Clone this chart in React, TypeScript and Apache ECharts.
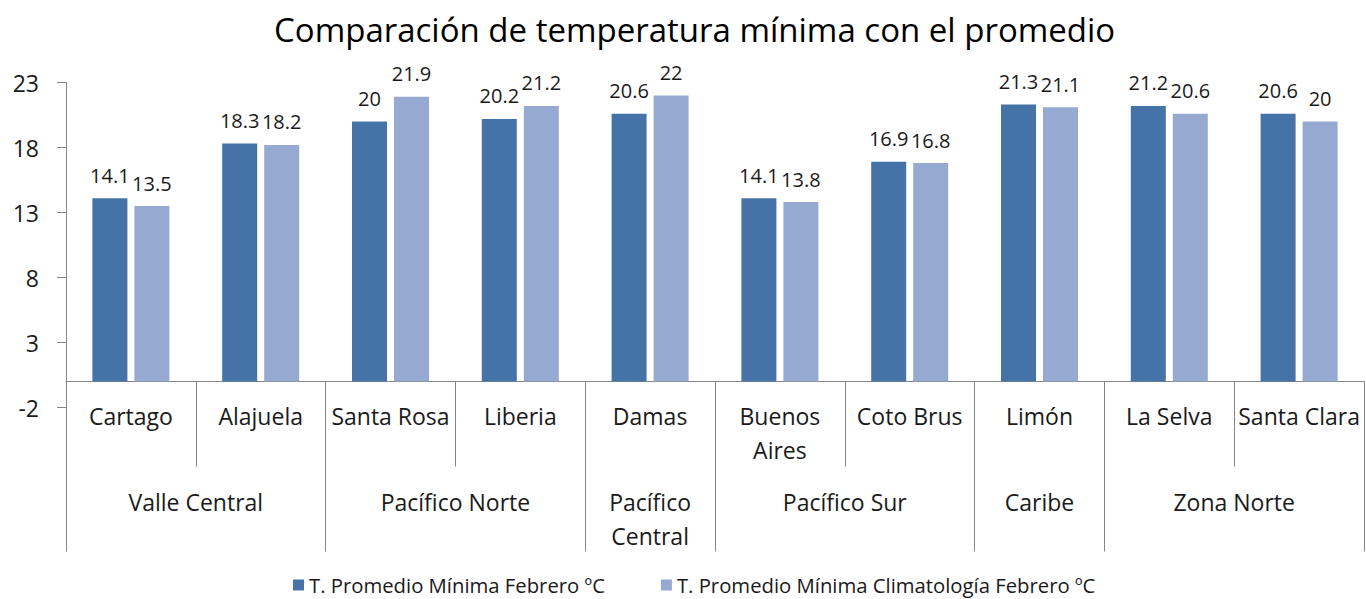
import React, { useEffect, useRef } from "react";
import * as echarts from "echarts";

const titleText = "Comparación de temperatura mínima con el promedio";
const cities = ["Cartago", "Alajuela", "Santa Rosa", "Liberia", "Damas", "Buenos Aires", "Coto Brus", "Limón", "La Selva", "Santa Clara"];
const regions = ["Valle Central", "Pacífico Norte", "Pacífico Central", "Pacífico Sur", "Caribe", "Zona Norte"];
const regionSpans = [2, 2, 1, 2, 1, 2];
const seriesNames = ["T. Promedio Mínima Febrero ºC", "T. Promedio Mínima Climatología Febrero ºC"];
const minFeb = [14.1, 18.3, 20, 20.2, 20.6, 14.1, 16.9, 21.3, 21.2, 20.6];
const climFeb = [13.5, 18.2, 21.9, 21.2, 22, 13.8, 16.8, 21.1, 20.6, 20];
const yMin = -2;
const yMax = 23;
const yStep = 5;

const FONT = "Open Sans";
const TXT = "#1a1a1a";
const AXIS = "#868686";
const C1 = "#4572A7";
const C2 = "#95A9D1";

export default function App() {
  const ref = useRef<HTMLDivElement>(null);
  useEffect(() => {
    if (!ref.current) return;
    const chart = echarts.init(ref.current, undefined, { renderer: "svg" });

    // region slots on a half-city grid (boundaryGap false)
    const slots: string[] = new Array(cities.length * 2 + 1).fill("");
    const spanOf: Record<string, number> = {};
    const bounds = new Set<number>();
    let s = 0;
    regions.forEach((r, i) => {
      const n = regionSpans[i];
      bounds.add(2 * s);
      slots[2 * s + n] = r;
      spanOf[r] = n;
      s += n;
    });
    bounds.add(2 * s);

    chart.setOption({
      animation: false,
      textStyle: { fontFamily: FONT },
      title: {
        text: titleText,
        left: 274,
        top: 13,
        padding: 0,
        textStyle: { fontFamily: FONT, fontSize: 33, fontWeight: "normal", color: "#000" },
      },
      legend: {
        top: 575,
        left: 293,
        padding: 0,
        icon: "rect",
        itemWidth: 11,
        itemHeight: 11,
        itemGap: 56,
        textStyle: { fontFamily: FONT, fontSize: 20.3, color: TXT },
        data: seriesNames,
      },
      grid: { left: 66, right: 2, top: 82.5, bottom: 191.5, containLabel: false },
      xAxis: [
        {
          type: "category",
          data: cities,
          position: "bottom",
          boundaryGap: true,
          axisLine: { show: true, onZero: true, onZeroAxisIndex: 0, lineStyle: { color: AXIS, width: 1 } },
          axisTick: { show: true, length: 85, inside: false, interval: 0, lineStyle: { color: AXIS, width: 1 } },
          axisLabel: {
            interval: 0,
            margin: -9,
            fontFamily: FONT,
            fontSize: 23,
            lineHeight: 34,
            color: TXT,
            formatter: (v: string) => (v.length > 11 ? v.replace(" ", "\n") : v),
          },
          splitLine: { show: false },
        },
        {
          type: "category",
          data: slots,
          position: "bottom",
          boundaryGap: false,
          axisLine: { show: false, onZero: true, onZeroAxisIndex: 0 },
          axisTick: {
            show: true,
            length: 170,
            inside: false,
            interval: (i: number) => bounds.has(i),
            lineStyle: { color: AXIS, width: 1 },
          },
          axisLabel: {
            interval: (i: number, v: string) => v !== "",
            margin: 77,
            fontFamily: FONT,
            fontSize: 23,
            lineHeight: 34,
            color: TXT,
            formatter: (v: string) => (spanOf[v] === 1 ? v.replace(" ", "\n") : v),
          },
          splitLine: { show: false },
        },
      ],
      yAxis: {
        type: "value",
        min: yMin,
        max: yMax,
        interval: yStep,
        axisLine: { show: true, lineStyle: { color: AXIS, width: 1 } },
        axisTick: { show: true, length: 9, inside: false, lineStyle: { color: AXIS, width: 1 } },
        axisLabel: { margin: 27, fontFamily: FONT, fontSize: 23, color: TXT },
        splitLine: { show: false },
      },
      series: [
        {
          name: seriesNames[0],
          type: "bar",
          xAxisIndex: 0,
          data: minFeb,
          barWidth: 35,
          barGap: "20%",
          itemStyle: { color: C1 },
          label: { show: true, position: "top", distance: 13, fontFamily: FONT, fontSize: 20, color: TXT },
        },
        {
          name: seriesNames[1],
          type: "bar",
          xAxisIndex: 0,
          data: climFeb,
          barWidth: 35,
          barGap: "20%",
          itemStyle: { color: C2 },
          label: { show: true, position: "top", distance: 13, fontFamily: FONT, fontSize: 20, color: TXT },
        },
      ],
    });
    return () => chart.dispose();
  }, []);
  return (
    <div
      ref={ref}
      style={{ position: "absolute", left: 0, top: 0, width: 1366, height: 599, background: "#fff" }}
    />
  );
}
